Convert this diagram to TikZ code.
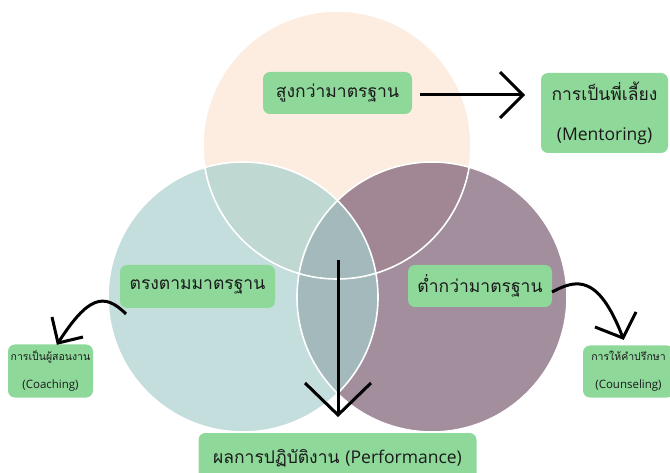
\documentclass[tikz,border=0pt]{standalone}
\usepackage{fontspec}
\newfontfamily\thai[Script=Thai]{Loma}
\newfontfamily\lat{Open Sans}
\definecolor{ctop}{HTML}{FDEDE1}
\definecolor{cleft}{HTML}{C4DEDD}
\definecolor{cright}{HTML}{A38E9E}
\definecolor{ctl}{HTML}{BFD8D2}
\definecolor{ctr}{HTML}{A08793}
\definecolor{clr}{HTML}{A4B9BB}
\definecolor{boxg}{HTML}{8ED89A}
\definecolor{txt}{HTML}{1A1A1A}
\tikzset{
  gbox/.style={fill=boxg, rounded corners=7pt, text=txt, align=center, inner sep=0pt},
  bigtext/.style={font=\thai\fontsize{17.5}{20}\selectfont},
  bigtwo/.style={font=\thai\fontsize{17.5}{40}\selectfont},
  smalltext/.style={font=\thai\fontsize{10.5}{28}\selectfont},
  arr/.style={line width=3pt, black},
  ring/.style={draw=white, line width=1.6pt}
}
\begin{document}
\begin{tikzpicture}[x=1pt,y=-1pt]
\useasboundingbox (0,0) rectangle (670,473);
\clip (0,0) rectangle (670,473);
% circles
\coordinate (ct) at (337,145);
\coordinate (cl) at (243,297);
\coordinate (cr) at (432,297);
\fill[ctop] (ct) circle (134);
\fill[cleft] (cl) circle (135);
\fill[cright] (cr) circle (135);
\begin{scope}
  \clip (ct) circle (134);
  \fill[ctl] (cl) circle (135);
  \fill[ctr] (cr) circle (135);
\end{scope}
\begin{scope}
  \clip (cl) circle (135);
  \fill[clr] (cr) circle (135);
\end{scope}
\draw[ring] (ct) circle (134);
\draw[ring] (cl) circle (135);
\draw[ring] (cr) circle (135);
% boxes
\node[gbox, bigtext, minimum width=149pt, minimum height=42pt] (above) at (337.5,93) {สูงกว่ามาตรฐาน};
\node[gbox, bigtwo, minimum width=127pt, minimum height=80pt] (mentor) at (604.5,113) {การเป็นพี่เลี้ยง\\{\lat (Mentoring)}};
\node[gbox, bigtext, minimum width=155pt, minimum height=43pt] (meet) at (197.5,286.5) {ตรงตามมาตรฐาน};
\node[gbox, bigtext, minimum width=144pt, minimum height=42pt] (below) at (480,286) {ต่ำกว่ามาตรฐาน};
\node[gbox, bigtext, minimum width=278pt, minimum height=50pt] (perf) at (337.5,458) {ผลการปฏิบัติงาน {\lat (Performance)}};
\node[gbox, smalltext, minimum width=85pt, minimum height=53pt] (coach) at (50.5,371) {การเป็นผู้สอนงาน\\{\lat\fontsize{11.5}{28}\selectfont (Coaching)}};
\node[gbox, smalltext, minimum width=91pt, minimum height=52pt] (counsel) at (628.5,371.5) {การให้คำปรึกษา\\{\lat\fontsize{11.5}{28}\selectfont (Counseling)}};
% arrows
\coordinate (h1) at (420,95);
\coordinate (h2) at (523,95);
\draw[arr] (h1) -- (h2);
\draw[arr] (h2) ++(-23,-23) -- (h2) -- ++(-23,23);
\coordinate (v1) at (338,260);
\coordinate (v2) at (338,415);
\draw[arr] (v1) -- (v2);
\draw[arr] (v2) ++(-33,-32) -- (v2) -- ++(33,-32);
\coordinate (l1) at (126,314);
\coordinate (l2) at (58,343);
\draw[arr] (l1) .. controls (104,292) and (88,296) .. (l2);
\draw[arr] (l2) ++(-6,-26) -- (l2) -- ++(25,-6);
\coordinate (r1) at (552,292);
\coordinate (r2) at (623,338);
\draw[arr] (r1) .. controls (575,280) and (598,272) .. (r2);
\draw[arr] (r2) ++(-28,-11) -- (r2) -- ++(13,-26);
\end{tikzpicture}
\end{document}
